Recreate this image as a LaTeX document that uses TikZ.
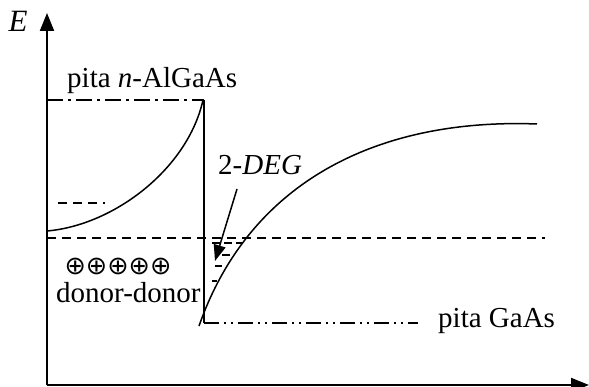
\documentclass[tikz,border=0pt]{standalone}
\usepackage{fontspec}
\setmainfont{Liberation Serif}
\newfontfamily\symfont{DejaVu Sans}
\usetikzlibrary{arrows.meta}

\begin{document}
\begin{tikzpicture}[x=1pt, y=-1pt, font=\fontsize{29}{33}\selectfont]
\tikzset{
  ax/.style={line width=2pt, -{Triangle[width=14pt, length=18pt]}},
  cv/.style={line width=1.5pt},
  fl/.style={line width=1.5pt, dash pattern=on 9pt off 6pt},
  dd/.style={line width=1.5pt, dash pattern=on 16pt off 5pt on 3pt off 5pt},
  ddd/.style={line width=1.5pt, dash pattern=on 15pt off 5pt on 2pt off 5pt on 2pt off 5pt},
  sd/.style={line width=1.2pt},
  lab/.style={inner sep=0pt}}
\useasboundingbox (0,0) rectangle (589,387);

% ---------------- axes ----------------
\coordinate (orig) at (47,385);
\coordinate (etop) at (47,13);
\coordinate (xend) at (589,385);
\draw[ax] (orig) -- (etop);
\draw[ax] (orig) -- (xend);
\node[lab, font=\fontsize{31}{34}\selectfont] (lblE) at (18,21) {\textit{E}};

% ---------------- n-AlGaAs side ----------------
\coordinate (alTop) at (204,100);
\coordinate (alBot) at (204,323);
\draw[dd] (47,100) -- (alTop);
\draw[cv] (alTop) -- (alBot);
\draw[cv] (47,231) .. controls (115,225) and (188,168) .. (203,100);
\draw[fl] (58,203) -- (105,203);
\node[lab, anchor=base west] (lblAl) at (67,88) {pita \textit{n}-AlGaAs};

% ---------------- Fermi level ----------------
\draw[fl] (47,238) -- (545,238);

% ---------------- GaAs side ----------------
\draw[ddd] (alBot) -- (418,323);
\draw[cv] (199,326) .. controls (250,180) and (380,118) .. (537,124);
\node[lab, anchor=base west] (lblGa) at (438,327) {pita GaAs};

% ---------------- 2-DEG ----------------
\draw[sd, dash pattern=on 8pt off 4pt] (212,243) -- (243,243);
\draw[sd] (222,255) -- (230,255);
\draw[sd] (215,266) -- (222,266);
\draw[sd] (212,281) -- (217,281);
\node[lab, anchor=base west] (lblDEG) at (218,175) {2-\textit{DEG}};
\coordinate (degTail) at (237,189);
\coordinate (degTip) at (215,261);
\draw[line width=1.5pt, -{Triangle[width=12pt, length=16pt]}] (degTail) -- (degTip);

% ---------------- donors ----------------
\node[lab, font=\symfont\fontsize{25.5}{28}\selectfont] (plus) at (118,266) {⊕⊕⊕⊕⊕};
\node[lab, anchor=base west] (donor) at (56,303) {donor-donor};
\end{tikzpicture}
\end{document}
